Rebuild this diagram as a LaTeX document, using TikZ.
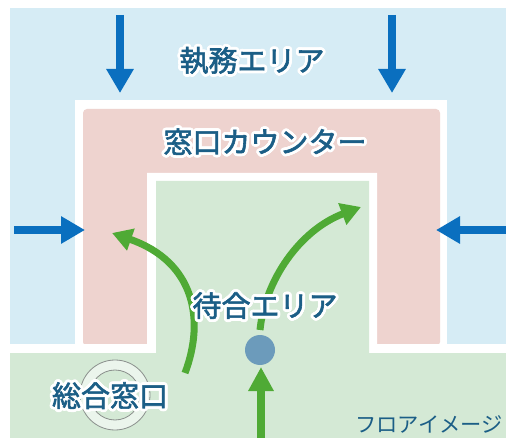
\documentclass[tikz,border=0pt]{standalone}
\usepackage{fontspec}
\newfontfamily\jp{Noto Sans CJK JP}[FakeBold=2]
\newfontfamily\jpl{Noto Sans CJK JP}
\usepackage[copies]{contour}
\contourlength{2.8pt}
\contournumber{24}
\usetikzlibrary{arrows.meta}
\definecolor{bgblue}{HTML}{D6ECF5}
\definecolor{pinkc}{HTML}{EED3CF}
\definecolor{greenc}{HTML}{D4E9D5}
\definecolor{textblue}{HTML}{1B5E86}
\definecolor{arrowblue}{HTML}{0A6FBF}
\definecolor{arrowgreen}{HTML}{4FAA35}
\definecolor{dotblue}{HTML}{6C9BBB}
\definecolor{ringgray}{HTML}{8A8F8C}
\begin{document}
\begin{tikzpicture}[x=1pt,y=-1pt,
  bluearrow/.style={draw=arrowblue, line width=8pt, -{Triangle[width=26pt,length=24pt]}},
  greenarrow/.style={draw=arrowgreen, line width=7pt, -{Triangle[width=22pt,length=20pt]}},
  lbl/.style={text=textblue, font=\jp\fontsize{29}{31}\selectfont, inner sep=0pt},
  smalllbl/.style={text=textblue, font=\jpl\fontsize{21.3}{24}\selectfont, inner sep=0pt}]
\useasboundingbox (0,0) rectangle (506,438);
% regions
\fill[white] (0,0) rectangle (506,438);
\fill[bgblue] (10,8) rectangle (506,438);
\fill[white] (75,100) rectangle (447,353);
\fill[pinkc, rounded corners=4pt] (83,109) rectangle (440,346);
\fill[white] (10,344) -- (147,344) -- (147,173) -- (377,173) -- (377,344) -- (506,344) -- (506,438) -- (10,438) -- cycle;
\fill[greenc] (10,353) -- (156,353) -- (156,181) -- (369,181) -- (369,353) -- (506,353) -- (506,438) -- (10,438) -- cycle;
% ring behind the general counter label
\draw[ringgray, line width=0.8pt, fill=white, fill opacity=0.55, even odd rule]
  (115,395) circle[radius=35] (115,395) circle[radius=25];
% blue arrows
\coordinate (tlA) at (120,15); \coordinate (tlB) at (120,93);
\coordinate (trA) at (392,15); \coordinate (trB) at (392,93);
\coordinate (lA) at (14,230);  \coordinate (lB) at (85,230);
\coordinate (rA) at (506,230); \coordinate (rB) at (436,230);
\draw[bluearrow] (tlA) -- (tlB);
\draw[bluearrow] (trA) -- (trB);
\draw[bluearrow] (lA) -- (lB);
\draw[bluearrow] (rA) -- (rB);
% green arrows
\coordinate (gA) at (261,440); \coordinate (gB) at (261,367);
\coordinate (c1A) at (185,373); \coordinate (c1B) at (112,233);
\coordinate (c2A) at (260,330); \coordinate (c2B) at (361,207);
\draw[greenarrow, line width=8pt, -{Triangle[width=24pt,length=24pt]}] (gA) -- (gB);
\draw[greenarrow] (c1A) .. controls (205,320) and (195,262) .. (c1B);
\draw[greenarrow] (c2A) .. controls (265,280) and (300,230) .. (c2B);
% dot
\node[circle, fill=dotblue, minimum size=30pt, inner sep=0pt] (dot) at (260,350) {};
% labels
\node[lbl] (shitsumu) at (252,62) {\contour{white}{執務エリア}};
\node[lbl] (madoguchi) at (265,143) {\contour{white}{窓口カウンター}};
\node[lbl] (machiai) at (265,307) {\contour{white}{待合エリア}};
\node[lbl] (sogo) at (110,397) {\contour{white}{総合窓口}};
\node[smalllbl, anchor=west] (floor) at (355,424) {フロアイメージ};
\end{tikzpicture}
\end{document}
